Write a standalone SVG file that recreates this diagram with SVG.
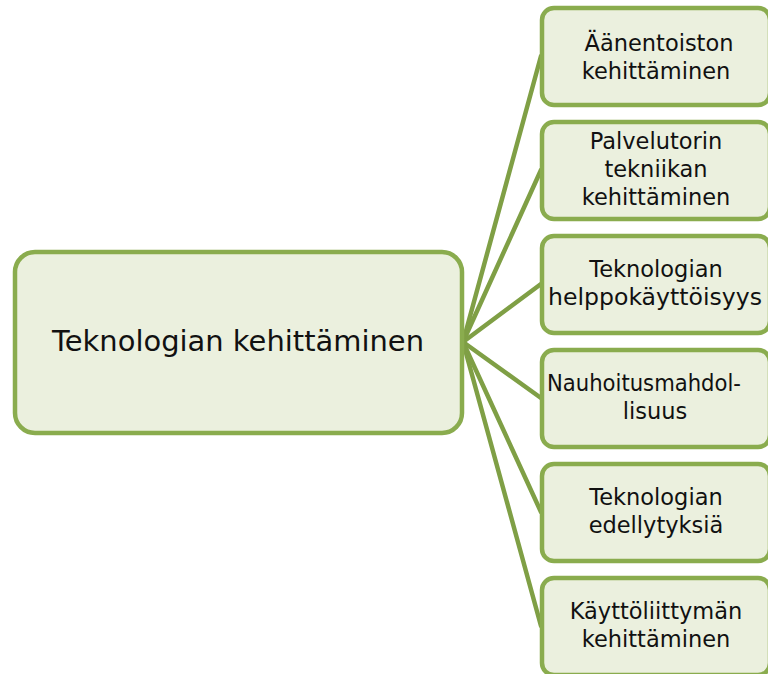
<svg xmlns="http://www.w3.org/2000/svg" width="768" height="674" viewBox="0 0 768 674">
<style>
.box{fill:#ebf0de;stroke:#8aac4e;stroke-width:4.5}
.con{stroke:#7f9f45;stroke-width:4.5;fill:none;stroke-linecap:round}
text{font-family:"DejaVu Sans",Verdana,sans-serif;fill:#111;text-anchor:middle}
.s{font-size:22.5px}
.m{font-size:29px}
</style>
<rect width="768" height="674" fill="#fff"/>
<g id="connectors">
<line class="con" x1="463" y1="342" x2="541" y2="56"/>
<line class="con" x1="463" y1="342" x2="541" y2="170"/>
<line class="con" x1="463" y1="342" x2="541" y2="284"/>
<line class="con" x1="463" y1="342" x2="541" y2="398"/>
<line class="con" x1="463" y1="342" x2="541" y2="512"/>
<line class="con" x1="463" y1="342" x2="541" y2="626"/>
</g>
<g id="main">
<rect class="box" x="15" y="252" width="447" height="181" rx="20"/>
<text class="m" x="238" y="351" textLength="372" lengthAdjust="spacingAndGlyphs">Teknologian kehittäminen</text>
</g>
<g id="n1">
<rect class="box" x="542" y="8" width="228" height="97" rx="12"/>
<text class="s" x="659" y="51">Äänentoiston</text>
<text class="s" x="656" y="79">kehittäminen</text>
</g>
<g id="n2">
<rect class="box" x="542" y="122" width="228" height="97" rx="12"/>
<text class="s" x="656" y="149">Palvelutorin</text>
<text class="s" x="656" y="177">tekniikan</text>
<text class="s" x="656" y="205">kehittäminen</text>
</g>
<g id="n3">
<rect class="box" x="542" y="236" width="228" height="97" rx="12"/>
<text class="s" x="656" y="277">Teknologian</text>
<text class="s" x="655" y="305" textLength="214" lengthAdjust="spacingAndGlyphs">helppokäyttöisyys</text>
</g>
<g id="n4">
<rect class="box" x="542" y="350" width="228" height="97" rx="12"/>
<text class="s" x="644" y="391" textLength="194" lengthAdjust="spacingAndGlyphs">Nauhoitusmahdol-</text>
<text class="s" x="655" y="419">lisuus</text>
</g>
<g id="n5">
<rect class="box" x="542" y="464" width="228" height="97" rx="12"/>
<text class="s" x="656" y="505">Teknologian</text>
<text class="s" x="656" y="533">edellytyksiä</text>
</g>
<g id="n6">
<rect class="box" x="542" y="578" width="228" height="97" rx="12"/>
<text class="s" x="656" y="619">Käyttöliittymän</text>
<text class="s" x="656" y="647">kehittäminen</text>
</g>
</svg>
